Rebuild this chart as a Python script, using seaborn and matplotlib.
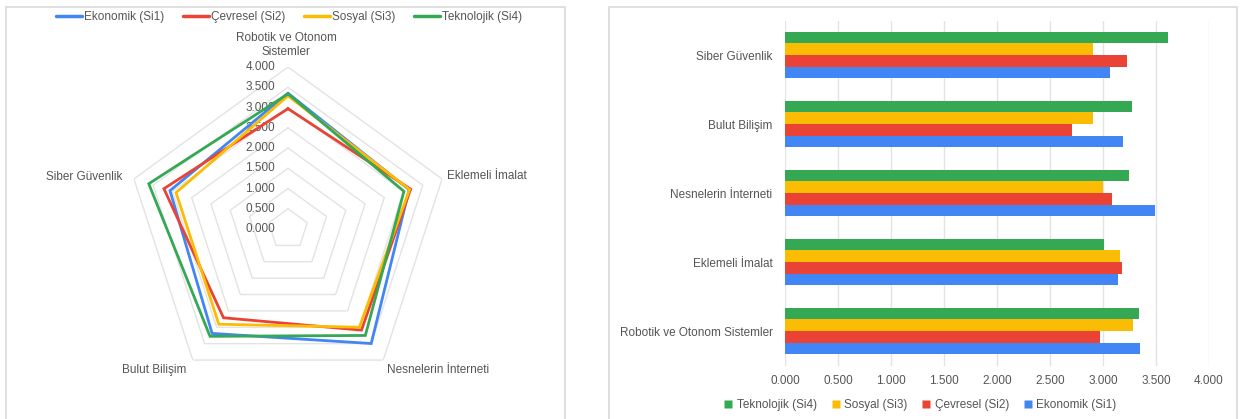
import numpy as np
import pandas as pd
import matplotlib
matplotlib.use("Agg")
import matplotlib.pyplot as plt
import matplotlib.transforms as mtrans
from matplotlib.patches import Rectangle
from matplotlib.lines import Line2D
import seaborn as sns

# ---------------- data ----------------
categories_radar = ["Robotik ve Otonom\nSistemler", "Eklemeli İmalat", "Nesnelerin İnterneti",
                    "Bulut Bilişim", "Siber Güvenlik"]
categories_bar = ["Siber Güvenlik", "Bulut Bilişim", "Nesnelerin İnterneti",
                  "Eklemeli İmalat", "Robotik ve Otonom Sistemler"]
series_names = ["Ekonomik (Si1)", "Çevresel (Si2)", "Sosyal (Si3)", "Teknolojik (Si4)"]
colors = ["#4285F4", "#EA4335", "#FBBC04", "#34A853"]

# values in radar category order: Robotik, Eklemeli, Nesnelerin, Bulut, Siber
si1 = [3.353, 3.145, 3.495, 3.187, 3.064]
si2 = [2.971, 3.183, 3.087, 2.709, 3.222]
si3 = [3.287, 3.156, 2.998, 2.906, 2.906]
si4 = [3.337, 3.010, 3.249, 3.276, 3.615]
series_values = [si1, si2, si3, si4]

radial_ticks = [0.0, 0.5, 1.0, 1.5, 2.0, 2.5, 3.0, 3.5, 4.0]
x_ticks = [0.0, 0.5, 1.0, 1.5, 2.0, 2.5, 3.0, 3.5, 4.0]

# ---------------- style ----------------
sns.set_style("white")
plt.rcParams["font.family"] = ["Liberation Sans", "DejaVu Sans"]
TXT = "#555555"
GRID = "#e3e3e3"

W, H = 1240, 419
fig = plt.figure(figsize=(W / 100, H / 100), dpi=100)
fig.patch.set_facecolor("white")

# panel frames
fig.add_artist(Rectangle((6 / W, -0.02), 559 / W, (419 - 7) / H + 0.02, transform=fig.transFigure,
                         fill=False, edgecolor="#dcdcdc", lw=1.3))
fig.add_artist(Rectangle((609 / W, -0.02), 628 / W, (419 - 7) / H + 0.02, transform=fig.transFigure,
                         fill=False, edgecolor="#dcdcdc", lw=1.3))

# ---------------- radar ----------------
cx, cy, R = 288, 229, 162
axr = fig.add_axes([(cx - R) / W, (H - cy - R) / H, 2 * R / W, 2 * R / H], projection="polar")
axr.set_theta_offset(np.pi / 2)
axr.set_theta_direction(-1)
axr.set_ylim(0, 4)
axr.grid(False)
axr.spines["polar"].set_visible(False)
axr.set_xticks([])
axr.set_yticks([])
axr.patch.set_alpha(0)

n = len(categories_radar)
angles = np.linspace(0, 2 * np.pi, n, endpoint=False)
angles_c = np.concatenate([angles, angles[:1]])

for v in radial_ticks[1:]:
    axr.plot(angles_c, [v] * (n + 1), color=GRID, lw=1.0, zorder=1)

for name, vals, col in zip(series_names, series_values, colors):
    vv = list(vals) + [vals[0]]
    axr.plot(angles_c, vv, color=col, lw=2.0, zorder=3, solid_joinstyle="miter")

off = mtrans.offset_copy(axr.transData, fig=fig, x=-13, y=0, units="dots")
for v in radial_ticks:
    axr.text(0, v, f"{v:.3f}", transform=off, ha="right", va="center", fontsize=8.5,
             color=TXT, zorder=2, clip_on=False)

label_offsets = [(-2, 22, "center"), (5, 3, "left"), (4, -10, "left"), (-6, -10, "right"), (-12, 2, "right")]
for ang, lab, (dx, dy, ha) in zip(angles, categories_radar, label_offsets):
    axr.annotate(lab, xy=(ang, 4.0), xytext=(dx, dy), textcoords="offset pixels",
                 ha=ha, va="center", fontsize=8.5, color=TXT, multialignment="center",
                 annotation_clip=False)

radar_handles = [Line2D([0], [0], color=c, lw=2.5) for c in colors]
fig.legend(radar_handles, series_names, loc="center", bbox_to_anchor=(289 / W, 1 - 17 / H),
           ncol=4, frameon=False, fontsize=8.5, handlelength=2.2, handletextpad=0.15,
           columnspacing=1.6, labelcolor=TXT)

# ---------------- bar chart ----------------
x0, x1 = 785, 1209
ytop, ybot = 20.5, 365.5
axb = fig.add_axes([x0 / W, (H - ybot) / H, (x1 - x0) / W, (ybot - ytop) / H])

rows = []
for name, vals in zip(series_names, series_values):
    for cat, v in zip(categories_radar, vals):
        rows.append({"cat": cat.replace("\n", " "), "series": name, "val": v})
df = pd.DataFrame(rows)

hue_order = series_names[::-1]
pal = dict(zip(series_names, colors))
sns.barplot(data=df, y="cat", x="val", hue="series", order=categories_bar, hue_order=hue_order,
            palette=pal, orient="h", width=0.667, saturation=1, linewidth=0, ax=axb, legend=False)

axb.set_xlim(0, 4.0)
axb.set_xticks(x_ticks)
axb.set_xticklabels([f"{t:.3f}" for t in x_ticks])
axb.set_xlabel("")
axb.set_ylabel("")
for s in axb.spines.values():
    s.set_visible(False)
axb.xaxis.grid(True, color=GRID, lw=1.0)
axb.yaxis.grid(False)
axb.set_axisbelow(True)
axb.tick_params(axis="x", length=0, pad=7, labelsize=8.5, labelcolor=TXT)
axb.tick_params(axis="y", length=0, pad=9, labelsize=8.5, labelcolor=TXT)

bar_handles = [Line2D([0], [0], marker="s", color="none", markerfacecolor=pal[s], markeredgecolor="none",
                      markersize=5.5) for s in hue_order]
fig.legend(bar_handles, hue_order, loc="center", bbox_to_anchor=(920 / W, 1 - 405 / H),
           ncol=4, frameon=False, fontsize=8.5, handlelength=0.8, handletextpad=0.3,
           columnspacing=1.2, labelcolor=TXT)

fig.savefig("out.png", dpi=100, facecolor="white")
